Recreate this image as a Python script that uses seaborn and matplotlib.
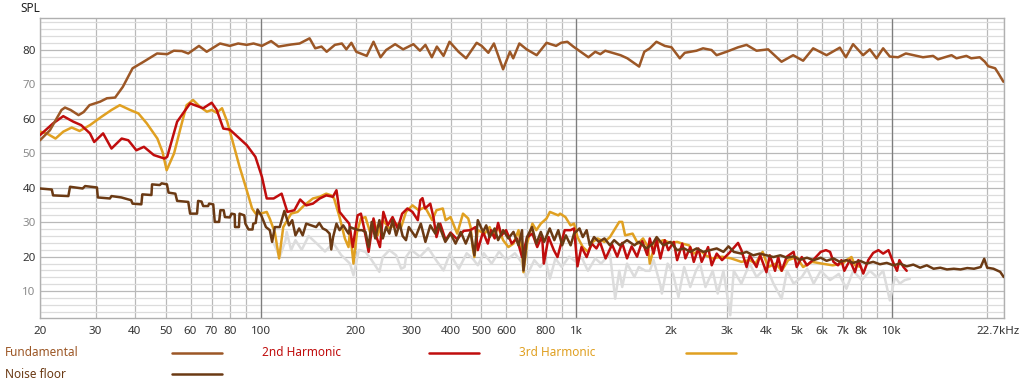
import numpy as np
import pandas as pd
import matplotlib
matplotlib.use("Agg")
import matplotlib.pyplot as plt
from matplotlib.lines import Line2D
from matplotlib.transforms import offset_copy
from matplotlib.ticker import FixedLocator, FixedFormatter, MultipleLocator, NullFormatter
import seaborn as sns

# ---- data (Hz, dB SPL) ----
fund_freq = [20, 21.5, 23.4, 24.0, 25.0, 26.5, 27.5, 28.7, 31.0, 32.6, 34.6, 36.6, 39.3, 42.6, 47.0,
             50.6, 53.1, 56.3, 59.0, 63.8, 67.5, 74.4, 79.9, 84.9, 90.4, 95.0, 101, 108, 114, 125,
             133, 143, 149, 156, 162, 172, 181, 187, 194, 201, 217, 228, 240, 250, 267, 283, 305,
             320, 333, 349, 362, 380, 397, 424, 448, 484, 502, 527, 549, 587, 617, 632, 661, 697,
             750, 806, 864, 896, 938, 980, 1094, 1150, 1193, 1237, 1383, 1453, 1584, 1645, 1712,
             1797, 1910, 2006, 2131, 2210, 2407, 2525, 2687, 2788, 2997, 3262, 3468, 3731, 4060,
             4477, 4874, 5241, 5640, 6219, 6852, 7160, 7546, 8120, 8527, 8955, 9397, 9866, 10480,
             11090, 12570, 13530, 14020, 15480, 16050, 17250, 17870, 19030, 19740, 20230, 21280,
             21800, 22600]
fund_spl = [53.8, 56.7, 62.6, 63.3, 62.6, 61.1, 62.0, 64.0, 65.0, 66.0, 66.2, 69.3, 74.7, 76.6, 79.0,
            78.8, 79.8, 79.7, 79.0, 81.2, 79.5, 81.9, 81.2, 81.9, 81.5, 81.9, 81.2, 82.6, 81.0, 81.6,
            81.9, 83.4, 80.5, 81.0, 79.5, 81.5, 81.9, 80.2, 82.1, 79.5, 78.3, 82.4, 77.9, 80.0, 81.7,
            80.2, 81.7, 79.8, 81.5, 77.9, 81.0, 78.3, 82.4, 79.5, 77.6, 82.1, 81.2, 79.2, 81.9, 74.4,
            79.5, 77.6, 81.9, 80.2, 78.5, 82.1, 81.2, 82.1, 82.4, 81.0, 77.9, 79.5, 78.8, 79.8, 78.5,
            77.6, 75.2, 79.5, 80.5, 82.4, 81.2, 80.8, 77.6, 79.2, 79.8, 80.5, 80.0, 78.5, 79.5, 80.8,
            81.5, 79.8, 80.2, 76.6, 78.5, 76.9, 80.5, 78.5, 80.7, 77.9, 81.7, 78.5, 80.2, 77.6, 80.5,
            78.1, 77.9, 79.0, 77.9, 78.3, 77.3, 78.5, 77.6, 78.3, 77.6, 77.9, 76.6, 75.3, 74.7, 73.2,
            70.8]

h2_freq = [20, 22.0, 23.7, 25.5, 27.0, 28.8, 29.7, 31.7, 33.7, 36.3, 38.1, 40.4, 42.7, 45.9, 49.6,
           50.6, 54.4, 59.8, 65.8, 70.0, 72.6, 76.2, 79.9, 85.8, 90.4, 96.3, 101, 104.6, 110, 116.6,
           121.6, 128, 133.5, 139.5, 146.5, 154, 161.5, 169.5, 174, 178, 185, 191, 196, 203, 208,
           212.5, 220, 228, 233, 239, 245, 253, 262, 272, 281, 292, 303, 315, 321, 326, 332, 345,
           353, 361, 371, 386, 400, 420, 440, 462, 480, 488, 507, 525, 537, 552, 566, 580, 600, 625,
           649, 674, 700, 727, 753, 780, 790, 818, 850, 873, 920, 960, 985, 1010, 1040, 1080, 1120,
           1160, 1190, 1240, 1300, 1350, 1400, 1450, 1500, 1560, 1620, 1680, 1712, 1760, 1800, 1850,
           1910, 1960, 2040, 2090, 2170, 2220, 2300, 2360, 2440, 2500, 2620, 2690, 2790, 2900, 3050,
           3260, 3340, 3470, 3550, 3730, 3830, 4010, 4110, 4270, 4370, 4480, 4650, 4890, 5000, 5190,
           5390, 5700, 5960, 6190, 6380, 6540, 6760, 6930, 7080, 7370, 7650, 7840, 8130, 8430, 8740,
           9080, 9400, 9770, 10150, 10400, 10580, 10900, 11160]
h2_spl = [55.3, 58.7, 60.8, 59.2, 58.2, 55.8, 53.3, 55.8, 51.4, 54.3, 53.8, 50.9, 51.9, 49.5, 48.5,
          49.0, 59.2, 64.5, 63.1, 64.7, 62.6, 57.2, 56.9, 54.3, 52.4, 49.0, 43.2, 36.9, 36.9, 38.3,
          33.0, 33.5, 36.6, 34.9, 35.4, 36.9, 37.8, 37.4, 39.3, 33.0, 31.1, 29.6, 22.8, 32.0, 32.5,
          28.6, 21.4, 31.1, 25.7, 22.8, 33.0, 29.1, 31.5, 28.2, 32.5, 34.0, 33.0, 30.6, 36.4, 37.0,
          34.0, 35.4, 31.5, 25.7, 29.6, 24.8, 27.0, 25.0, 27.5, 27.7, 28.6, 21.9, 27.2, 23.8, 27.7,
          25.3, 29.8, 26.2, 27.7, 23.8, 25.3, 19.9, 25.7, 26.7, 22.8, 26.2, 18.0, 25.7, 21.9, 19.9,
          27.7, 27.7, 28.2, 17.2, 22.8, 19.9, 23.8, 22.4, 24.3, 19.5, 23.5, 20.0, 24.0, 19.5, 23.0,
          20.0, 24.5, 20.5, 25.3, 20.9, 24.8, 19.5, 24.8, 21.9, 24.3, 19.0, 23.8, 19.5, 22.8, 18.5,
          22.4, 18.5, 22.8, 17.5, 20.9, 19.0, 21.0, 24.0, 21.9, 17.0, 20.4, 17.0, 20.4, 15.5, 20.4,
          15.9, 19.9, 15.9, 20.0, 21.4, 17.0, 19.9, 17.5, 19.5, 21.4, 21.9, 21.4, 18.5, 17.5, 19.0,
          15.9, 19.0, 15.5, 19.0, 15.1, 19.0, 21.1, 21.9, 20.9, 21.9, 18.0, 15.9, 19.0, 17.0, 15.9]

h3_freq = [20, 21, 22.4, 23.7, 25.2, 26.7, 28.8, 31.3, 33.7, 35.8, 38.6, 41.0, 43.6, 47.1, 48.9, 50.4,
           53.2, 55.9, 58.3, 61.1, 64.3, 67.6, 70.0, 72.6, 75.5, 78.4, 81.4, 85.8, 90.4, 94, 96.5,
           100, 104.6, 107, 111, 114.5, 118, 125, 131, 137.5, 146.5, 154, 161.5, 167.5, 171, 178, 185,
           190, 192, 197, 202, 208, 215, 223, 229, 235, 244, 256, 269, 279, 289, 303, 317, 332, 350,
           361, 378, 386, 400, 420, 438, 455, 463, 470, 476, 488, 513, 532, 545, 566, 587, 610, 633,
           657, 674, 681, 699, 727, 748, 773, 806, 826, 878, 890, 925, 960, 985, 1010, 1050, 1090,
           1130, 1170, 1230, 1280, 1320, 1370, 1400, 1430, 1510, 1570, 1630, 1690, 1712, 1780, 1890,
           1990, 2090, 2170, 2280, 2360, 2470, 2570, 2700, 2900, 3100, 3340, 3550, 3700, 3900, 4060,
           4300, 4480, 4700, 5000, 5240, 5600, 6000, 6500, 7000, 7190, 7460, 7650, 8000]
h3_spl = [56.3, 55.8, 54.3, 56.3, 57.5, 56.5, 58.2, 60.6, 62.6, 64.0, 62.6, 61.6, 58.7, 54.3, 50.4, 45.1,
          50.0, 57.7, 64.0, 65.5, 63.5, 62.1, 62.6, 61.8, 63.1, 59.2, 53.8, 46.1, 39.3, 34.0, 32.5,
          32.5, 33.0, 31.0, 27.0, 19.5, 28.6, 32.5, 33.0, 34.9, 36.9, 37.4, 38.3, 37.8, 36.9, 31.5, 25.3,
          22.8, 27.7, 18.0, 27.0, 31.1, 31.5, 26.7, 30.6, 26.2, 30.6, 28.2, 29.6, 28.6, 33.0, 34.9, 33.5,
          34.4, 30.6, 33.5, 34.0, 30.6, 31.5, 26.7, 32.5, 31.1, 28.6, 22.8, 19.9, 27.7, 26.7, 28.6,
          26.2, 28.6, 24.8, 22.8, 23.8, 27.7, 21.4, 15.5, 23.8, 29.6, 27.7, 29.6, 31.1, 33.0, 32.0,
          32.5, 31.5, 29.1, 29.6, 25.7, 22.8, 21.4, 24.3, 25.3, 24.3, 25.7, 27.7, 30.1, 30.1, 26.2,
          26.7, 23.8, 25.3, 22.8, 18.0, 23.8, 24.8, 24.0, 24.3, 23.8, 23.3, 20.9, 21.9, 20.4, 19.5,
          20.0, 19.5, 18.5, 19.0, 18.0, 21.4, 17.0, 18.0, 15.9, 19.0, 19.9, 17.0, 18.5, 18.0, 17.5,
          18.0, 19.0, 19.9, 17.5, 17.0]

noise_freq = [20, 21.8, 22.0, 24.6, 24.9, 27.3, 27.8, 30.3, 30.5, 33.3, 33.7, 36.2, 38.9, 39.3, 41.9,
              42.2, 45.1, 45.3, 47.9, 48.6, 50.5, 51.1, 53.7, 54.4, 59.0, 59.8, 62.9, 63.4, 65.0, 65.8,
              68.2, 68.7, 70.8, 71.6, 73.9, 74.6, 76.4, 77.1, 79.9, 80.9, 82.8, 83.0, 85.4, 85.8, 88.8,
              89.5, 91.6, 94.3, 94.8, 96.5, 97.8, 100.5, 104, 107, 108.8, 111, 115, 119, 123, 126, 129,
              132.5, 136, 139.5, 144.6, 150, 153.5, 157.4, 161.5, 165.5, 167.5, 169.8, 174, 178, 182.8,
              190, 192, 197, 205, 209.5, 215, 220, 225, 231, 238, 244, 250, 256, 262, 269, 276, 282,
              289, 295, 310, 322, 333, 345, 358, 366, 385, 400, 415, 431, 447, 463, 476, 488, 507, 519,
              532, 552, 566, 587, 610, 633, 657, 674, 681, 699, 725, 748, 773, 792, 825, 853, 878, 903,
              928, 961, 985, 1025, 1050, 1080, 1105, 1140, 1180, 1230, 1280, 1320, 1376, 1450, 1530,
              1580, 1670, 1750, 1800, 1890, 1990, 2090, 2200, 2300, 2410, 2530, 2660, 2790, 2930, 3040,
              3160, 3340, 3470, 3640, 3820, 4010, 4220, 4440, 4660, 4890, 5120, 5390, 5660, 5960, 6220,
              6540, 6850, 7190, 7550, 7940, 8320, 8740, 9180, 9650, 10130, 10610, 11160, 11710, 12310,
              12920, 13580, 14260, 14970, 15740, 16530, 17360, 18240, 19150, 19650, 20080, 21020,
              22080, 22650]
noise_spl = [39.8, 39.5, 37.8, 37.6, 40.3, 39.8, 40.5, 40.1, 37.2, 36.9, 37.6, 37.2, 36.4, 35.4, 35.2,
             38.1, 37.9, 41.0, 40.8, 41.3, 41.0, 38.6, 38.3, 36.2, 35.9, 32.5, 32.5, 36.2, 36.0, 34.7,
             34.7, 35.4, 35.2, 30.1, 30.1, 33.5, 33.5, 31.5, 31.4, 32.5, 32.3, 28.6, 28.6, 32.5, 32.0,
             29.6, 27.9, 27.9, 29.6, 29.8, 33.7, 32.0, 28.6, 27.7, 24.3, 28.6, 28.6, 33.3, 29.1, 30.6, 26.2,
             28.2, 26.2, 29.6, 29.1, 28.6, 29.8, 28.2, 27.7, 26.7, 22.1, 25.7, 29.6, 27.7, 29.1,
             26.7, 28.6, 28.2, 27.7, 27.7, 27.2, 22.8, 30.1, 25.3, 30.6, 25.3, 28.6, 26.7, 30.6, 26.2, 29.6, 26.0,
             24.8, 28.6, 25.7, 29.6, 24.3, 29.1, 26.7, 29.6, 24.3, 26.7, 23.8, 27.2, 23.8, 27.2, 20.4, 30.6, 27.2, 29.1,
             25.7, 28.2, 24.8, 27.7, 25.3, 27.2, 23.3, 27.7, 16.0, 25.7, 28.6, 23.8, 27.2, 24.3, 28.2, 24.8, 27.7, 23.3,
             26.2, 23.3, 26.7, 28.2, 25.7, 27.7, 23.3, 25.7, 24.3, 25.3, 23.3, 24.8, 23.3, 24.8, 23.3,
             24.3, 22.4, 23.8, 25.7, 23.3, 24.3, 21.9, 22.4, 21.4, 22.4, 21.4, 21.9, 22.4, 21.4, 23.0,
             21.4, 20.9, 21.4, 20.4, 20.9, 20.4, 19.9, 20.4, 19.7, 20.1, 19.1, 19.7, 19.0, 19.7, 18.8,
             19.5, 18.5, 19.0, 18.2, 18.8, 18.0, 18.5, 17.8, 18.2, 17.5, 18.0, 17.2, 17.7, 16.8,
             17.5, 16.5, 16.8, 16.3, 16.5, 16.3, 16.7, 16.5, 17.0, 19.4, 16.8, 16.5,
             15.6, 14.1]

grey_freq = [110, 115, 120, 121, 125, 129, 135, 142, 150, 160, 170, 180, 192, 197, 205, 215, 225, 238,
             244, 256, 269, 279, 286, 289, 300, 320, 340, 360, 380, 398, 425, 450, 470, 488, 510, 540,
             570, 600, 640, 670, 695, 737, 770, 800, 826, 860, 900, 950, 1000, 1040, 1090, 1150, 1200,
             1280, 1330, 1370, 1400, 1450, 1530, 1580, 1660, 1712, 1760, 1850, 1870, 1950, 2030, 2110,
             2200, 2300, 2400, 2470, 2570, 2710, 2810, 2930, 3080, 3160, 3340, 3550, 3730, 4010, 4220,
             4480, 4660, 4890, 5190, 5400, 5660, 5960, 6380, 6800, 7190, 7550, 8040, 8530, 9000, 9400,
             9870, 10250, 10610, 11000, 11420]
grey_spl = [24.0, 19.9, 24.8, 27.2, 21.9, 24.8, 22.0, 26.0, 24.0, 21.5, 24.0, 20.5, 18.0, 14.6, 22.0,
            21.4, 19.0, 15.6, 19.9, 21.9, 20.4, 16.5, 17.0, 19.9, 22.0, 20.0, 22.5, 19.0, 16.0, 20.9,
            16.5, 21.0, 19.5, 17.5, 21.0, 18.0, 21.5, 19.0, 21.0, 18.5, 14.1, 19.0, 17.0, 19.0, 13.6,
            19.5, 17.0, 20.0, 18.5, 19.9, 15.9, 19.5, 18.0, 20.9, 7.8, 15.9, 11.2, 18.0, 14.1, 17.0,
            15.9, 15.9, 19.0, 11.7, 9.3, 18.0, 15.0, 8.3, 17.0, 11.2, 16.0, 18.0, 11.2, 15.9, 9.3, 15.9,
            3.0, 15.9, 12.2, 18.0, 14.1, 17.0, 12.2, 7.8, 15.9, 12.2, 14.1, 16.5, 12.2, 15.9, 13.2,
            15.0, 10.7, 15.9, 13.2, 15.9, 14.0, 15.9, 7.3, 14.1, 12.2, 13.2, 13.6]

grid_freqs = [20, 30, 40, 50, 60, 70, 80, 90, 100, 200, 300, 400, 500, 600, 700, 800, 900, 1000,
              2000, 3000, 4000, 5000, 6000, 7000, 8000, 9000, 10000, 20000, 22700]
grid_labels = ["20", "30", "40", "50", "60", "70", "80", "", "100", "200", "300", "400", "500", "600",
               "", "800", "", "1k", "2k", "3k", "4k", "5k", "6k", "7k", "8k", "", "10k", "", "22.7kHz"]
y_ticks = [10, 20, 30, 40, 50, 60, 70, 80]

series = [
    ("grey", grey_freq, grey_spl, "#dcdcdc", None),
    ("3rd Harmonic", h3_freq, h3_spl, "#e0a021", "3rd Harmonic"),
    ("2nd Harmonic", h2_freq, h2_spl, "#c00d0d", "2nd Harmonic"),
    ("Noise floor", noise_freq, noise_spl, "#6b3a14", "Noise floor"),
    ("Fundamental", fund_freq, fund_spl, "#9c5726", "Fundamental"),
]

frames = []
for name, f, s, _, _ in series:
    frames.append(pd.DataFrame({"freq": f, "spl": s, "series": name}))
df = pd.concat(frames, ignore_index=True)

sns.set_style("white")
plt.rcParams['font.family'] = ['Noto Sans', 'DejaVu Sans']

fig = plt.figure(figsize=(10.24, 3.86), dpi=100)
ax = fig.add_axes([40 / 1024, 1 - 318 / 386, 964 / 1024, 300 / 386])

for name, f, s, color, label in series:
    sns.lineplot(data=df[df["series"] == name], x="freq", y="spl", ax=ax, color=color,
                 linewidth=1.8, estimator=None, sort=False, legend=False, zorder=3)

ax.set_xscale("log")
ax.set_xlim(20, 22700)
ax.set_ylim(2.2, 89.3)
ax.set_xlabel("")
ax.set_ylabel("")

# grid
ax.xaxis.set_major_locator(FixedLocator(grid_freqs))
ax.xaxis.set_major_formatter(FixedFormatter(grid_labels))
ax.xaxis.set_minor_locator(FixedLocator([]))
ax.xaxis.set_minor_formatter(NullFormatter())
ax.yaxis.set_major_locator(FixedLocator(y_ticks))
ax.yaxis.set_minor_locator(MultipleLocator(2))
ax.grid(True, which="major", axis="both", color="#b9b9b9", linewidth=0.9, zorder=0)
ax.grid(True, which="minor", axis="y", color="#dcdcdc", linewidth=0.9, zorder=0)
for xv in [100, 1000, 10000]:
    ax.axvline(xv, color="#7d7d7d", linewidth=0.9, zorder=1)
ax.set_axisbelow(True)

ax.tick_params(axis="both", which="both", length=0, labelsize=8.3)
ax.tick_params(axis="x", pad=6, colors="#333333")
ax.tick_params(axis="y", pad=3)
for lab, val in zip(ax.get_yticklabels(), y_ticks):
    lab.set_color("#333333" if val % 20 == 0 else "#8a8a8a")

# last x label ("22.7kHz") sits right-aligned near the figure edge
last = ax.get_xticklabels()[-1]
last.set_horizontalalignment("right")
last.set_transform(offset_copy(last.get_transform(), fig=fig, x=16, y=0, units="dots"))

for sp in ax.spines.values():
    sp.set_color("#b0b0b0")
    sp.set_linewidth(1.0)

fig.text(20 / 1024, 1 - 9 / 386, "SPL", fontsize=8.5, color="#222222", ha="left", va="center")

# legend below the axes
legend_pos = {
    "Fundamental": (5, 172, 353),
    "2nd Harmonic": (262, 429, 353),
    "3rd Harmonic": (519, 686, 353),
    "Noise floor": (5, 172, 374),
}
for name, f, s, color, label in series:
    if label is None:
        continue
    tx, lx, ly = legend_pos[label]
    fy = 1 - ly / 386
    fig.text(tx / 1024, fy, label, color=color, fontsize=8.5, ha="left", va="center")
    fig.add_artist(Line2D([lx / 1024, (lx + 50) / 1024], [fy, fy], transform=fig.transFigure,
                          color=color, linewidth=1.8))

fig.savefig("out.png", dpi=100)
